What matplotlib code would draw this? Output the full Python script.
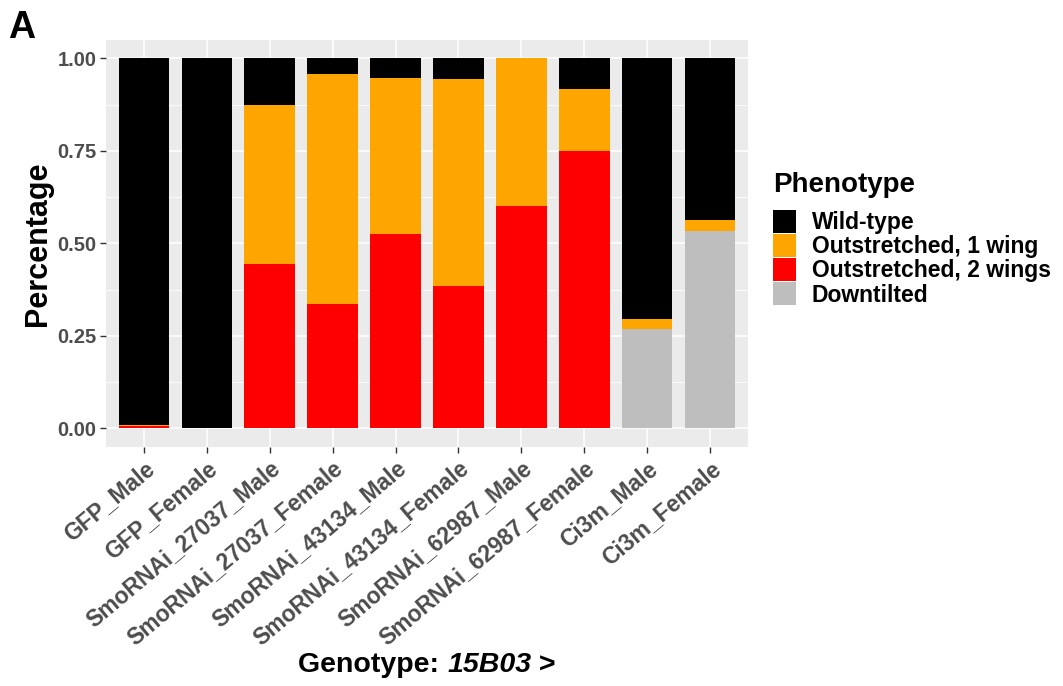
import matplotlib
matplotlib.use("Agg")
from matplotlib import pyplot as plt
from matplotlib.patches import Patch
from matplotlib.ticker import MultipleLocator

plt.rcParams["font.family"] = ["Liberation Sans", "DejaVu Sans"]

genotypes = ["GFP_Male", "GFP_Female", "SmoRNAi_27037_Male", "SmoRNAi_27037_Female",
             "SmoRNAi_43134_Male", "SmoRNAi_43134_Female", "SmoRNAi_62987_Male",
             "SmoRNAi_62987_Female", "Ci3m_Male", "Ci3m_Female"]
downtilted = [0, 0, 0, 0, 0, 0, 0, 0, 0.27, 0.533]
two_wings = [0.007, 0, 0.444, 0.336, 0.526, 0.385, 0.60, 0.75, 0, 0]
one_wing = [0.003, 0, 0.431, 0.621, 0.422, 0.559, 0.40, 0.167, 0.027, 0.03]
wild_type = [0.99, 1.0, 0.125, 0.043, 0.052, 0.056, 0, 0.083, 0.703, 0.437]

phenotypes = ["Wild-type", "Outstretched, 1 wing", "Outstretched, 2 wings", "Downtilted"]
colors = ["#000000", "#FFA500", "#FF0000", "#BEBEBE"]

fig = plt.figure(figsize=(10.63, 6.86), dpi=100)
ax = fig.add_axes([0.0997, 0.3484, 0.604, 0.5933])
ax.set_facecolor("#EBEBEB")

x = list(range(1, len(genotypes) + 1))
# stack from bottom: downtilted, 2 wings, 1 wing, wild-type
bottom = [0.0] * len(x)
for vals, col in [(downtilted, colors[3]), (two_wings, colors[2]),
                  (one_wing, colors[1]), (wild_type, colors[0])]:
    ax.bar(x, vals, bottom=bottom, width=0.8, color=col, zorder=3, linewidth=0)
    bottom = [b + v for b, v in zip(bottom, vals)]

ax.set_xlim(0.4, 10.6)
ax.set_ylim(-0.05, 1.05)
ax.yaxis.set_minor_locator(MultipleLocator(0.125))
ax.set_yticks([0, 0.25, 0.5, 0.75, 1.0])
ax.set_yticklabels(["0.00", "0.25", "0.50", "0.75", "1.00"])
ax.set_xticks(x)
ax.set_xticklabels(genotypes, rotation=40, ha="right", va="top", rotation_mode="anchor")
ax.grid(which="major", color="white", linewidth=1.1, zorder=0)
ax.grid(which="minor", axis="y", color="white", linewidth=0.55, zorder=0)
for s in ax.spines.values():
    s.set_visible(False)
ax.tick_params(which="major", length=4, width=1, color="#333333", labelcolor="#4D4D4D",
               pad=3)
ax.tick_params(axis="y", labelsize=14.5)
ax.tick_params(axis="x", labelsize=16.5)
ax.tick_params(which="minor", length=0)
for lab in ax.get_xticklabels() + ax.get_yticklabels():
    lab.set_fontweight("bold")

ax.set_ylabel("Percentage", fontsize=22, fontweight="bold", labelpad=3)

fig.text(0.008, 0.985, "A", fontsize=27, fontweight="bold", va="top", ha="left")

# x title: "Genotype: " bold, "15B03" bold italic, " >" bold
fig.canvas.draw()
r = fig.canvas.get_renderer()
parts = [("Genotype: ", "normal"), ("15B03", "italic"), (" >", "normal")]
texts = []
for s, st in parts:
    texts.append(fig.text(0, 0.012, s, fontsize=20.5, fontweight="bold", style=st,
                          va="bottom", ha="left"))
widths = [t.get_window_extent(r).width for t in texts]
total = sum(widths)
cx = (ax.get_position().x0 + ax.get_position().x1) / 2 * fig.bbox.width
xpos = cx - total / 2
for t, w in zip(texts, widths):
    t.set_x(xpos / fig.bbox.width)
    xpos += w

handles = [Patch(facecolor=c, edgecolor="none") for c in colors]
leg = fig.legend(handles, phenotypes, loc="upper left", bbox_to_anchor=(0.727, 0.75),
                 frameon=False, title="Phenotype", fontsize=16.5, title_fontsize=20,
                 handlelength=1.0, handleheight=1.15, labelspacing=0.0,
                 handletextpad=0.7, borderaxespad=0, borderpad=0)
leg._legend_box.align = "left"
leg._legend_box.sep = 9
leg.get_title().set_fontweight("bold")
for t in leg.get_texts():
    t.set_fontweight("bold")

fig.savefig("out.png", dpi=100)
